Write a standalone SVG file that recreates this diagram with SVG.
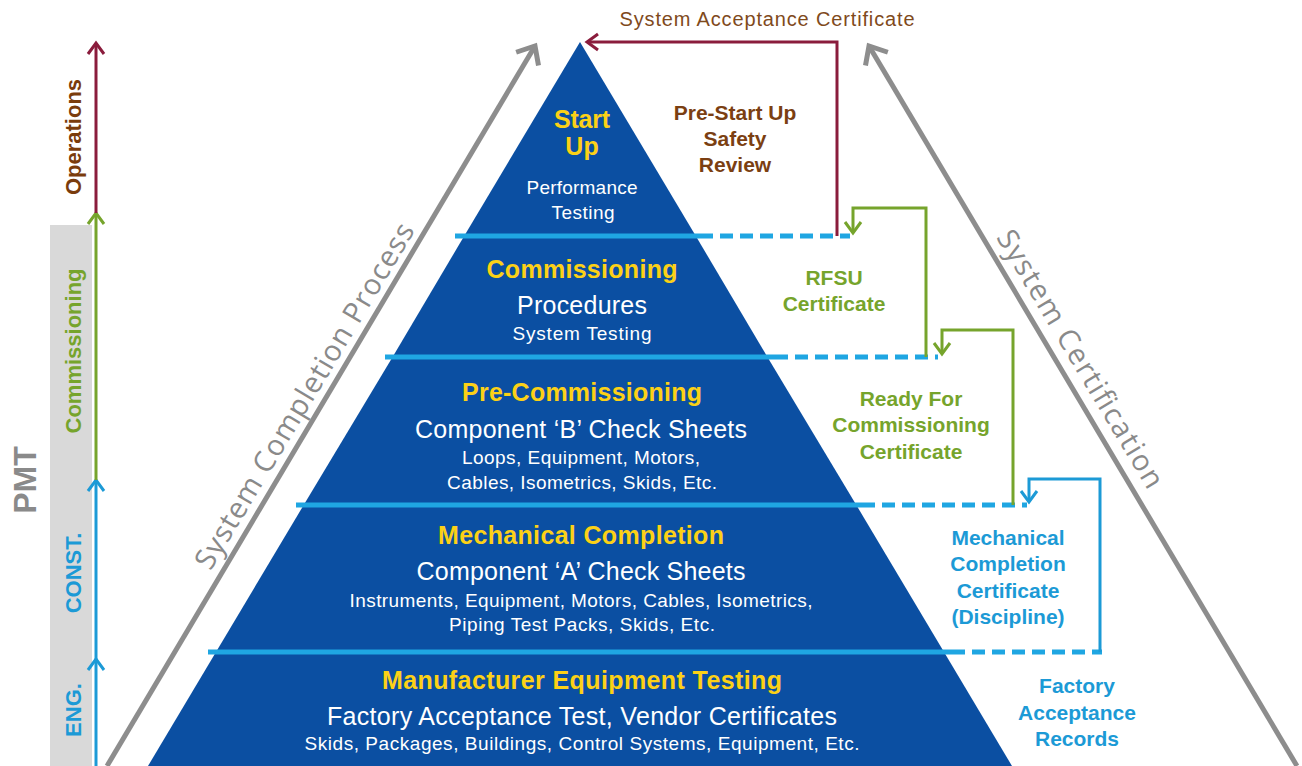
<svg xmlns="http://www.w3.org/2000/svg" width="1302" height="766" viewBox="0 0 1302 766">
<style>
.lvl{fill:#0b4fa2}
.t{font-family:"Liberation Sans",Arial,sans-serif;text-anchor:middle}
.ttl{font-weight:bold;font-size:25px;fill:#fcd116}
.big{font-size:25px;fill:#ffffff}
.sm{font-size:19px;fill:#ffffff}
.lb{font-weight:bold;font-size:21px}
.brown{fill:#7b3f12}
.green{fill:#76a42c}
.blue{fill:#1c9ad6}
.side{font-weight:bold;font-size:22px}
.div{stroke:#1fa6e2;stroke-width:5;fill:none}
.dash{stroke:#1fa6e2;stroke-width:5;fill:none;stroke-dasharray:13 7}
.gl{stroke:#8d8d8d;stroke-width:5;fill:none;marker-end:url(#ah-gray)}
.gtxt{font-family:"Open Sans","Liberation Sans",sans-serif;font-size:29px;fill:#8a8a8a;text-anchor:middle}
</style>
<defs>
<marker id="ah-maroon" viewBox="-14 -11 18 22" refX="0" refY="0" markerWidth="18" markerHeight="22" markerUnits="userSpaceOnUse" orient="auto"><path d="M-11,-8 L0,0 L-11,8" fill="none" stroke="#8a1c3c" stroke-width="3"/></marker>
<marker id="ah-green" viewBox="-14 -11 18 22" refX="0" refY="0" markerWidth="18" markerHeight="22" markerUnits="userSpaceOnUse" orient="auto"><path d="M-11,-8 L0,0 L-11,8" fill="none" stroke="#76a42c" stroke-width="3"/></marker>
<marker id="ah-blue" viewBox="-14 -11 18 22" refX="0" refY="0" markerWidth="18" markerHeight="22" markerUnits="userSpaceOnUse" orient="auto"><path d="M-11,-8 L0,0 L-11,8" fill="none" stroke="#1c9ad6" stroke-width="3"/></marker>
<marker id="ah-gray" viewBox="-19 -17 25 34" refX="0" refY="0" markerWidth="25" markerHeight="34" markerUnits="userSpaceOnUse" orient="auto"><path d="M-15,-13 L0,0 L-15,13" fill="none" stroke="#8d8d8d" stroke-width="5"/></marker>
</defs>
<rect width="1302" height="766" fill="#ffffff"/>

<g id="phase-bar">
<rect x="50" y="225" width="42" height="541" fill="#d9d9d9"/>
<path d="M96 766 V659" stroke="#1c9ad6" stroke-width="3" fill="none" marker-end="url(#ah-blue)"/>
<path d="M96 659 V480" stroke="#1c9ad6" stroke-width="3" fill="none" marker-end="url(#ah-blue)"/>
<path d="M96 480 V213" stroke="#76a42c" stroke-width="3" fill="none" marker-end="url(#ah-green)"/>
<path d="M96 213 V43" stroke="#8a1c3c" stroke-width="3" fill="none" marker-end="url(#ah-maroon)"/>
<text class="t side" fill="#7a3c0c" transform="translate(81 137) rotate(-90)">Operations</text>
<text class="t side" fill="#76a42c" transform="translate(81 351) rotate(-90)">Commissioning</text>
<text class="t side" fill="#1c9ad6" transform="translate(81 573) rotate(-90)">CONST.</text>
<text class="t side" fill="#1c9ad6" transform="translate(81 710) rotate(-90)">ENG.</text>
<text class="t" font-weight="bold" font-size="32" fill="#8a8a8a" transform="translate(36 480) rotate(-90)">PMT</text>
</g>

<g id="process-arrows">
<path class="gl" d="M107 766 L535 46"/>
<path class="gl" d="M1297 766 L869 46"/>
<text class="gtxt" transform="translate(313 401) rotate(-59)" textLength="398" lengthAdjust="spacing">System Completion Process</text>
<text class="gtxt" transform="translate(1072 364) rotate(59)" textLength="296" lengthAdjust="spacing">System Certification</text>
</g>

<g id="level-startup">
<polygon class="lvl" points="580,42 695.8,236 464.2,236"/>
<text class="t ttl" x="582" y="128" textLength="56" lengthAdjust="spacing">Start</text>
<text class="t ttl" x="582" y="155">Up</text>
<text class="t sm" x="582" y="194" textLength="111" lengthAdjust="spacing">Performance</text>
<text class="t sm" x="583" y="219" textLength="63" lengthAdjust="spacing">Testing</text>
</g>

<g id="level-commissioning">
<polygon class="lvl" points="464.2,236 695.8,236 767.4,357 392.6,357"/>
<text class="t ttl" x="582" y="278" textLength="191" lengthAdjust="spacing">Commissioning</text>
<text class="t big" x="582" y="314" textLength="130" lengthAdjust="spacing">Procedures</text>
<text class="t sm" x="582" y="340" textLength="139" lengthAdjust="spacing">System Testing</text>
</g>

<g id="level-precommissioning">
<polygon class="lvl" points="392.6,357 767.4,357 856.3,505 303.7,505"/>
<text class="t ttl" x="582" y="401" textLength="240" lengthAdjust="spacing">Pre-Commissioning</text>
<text class="t big" x="581" y="438" textLength="332" lengthAdjust="spacing">Component ‘B’ Check Sheets</text>
<text class="t sm" x="581" y="464" textLength="238" lengthAdjust="spacing">Loops, Equipment, Motors,</text>
<text class="t sm" x="582" y="489" textLength="270" lengthAdjust="spacing">Cables, Isometrics, Skids, Etc.</text>
</g>

<g id="level-mechanical">
<polygon class="lvl" points="303.7,505 856.3,505 944,652 216,652"/>
<text class="t ttl" x="581" y="544" textLength="286" lengthAdjust="spacing">Mechanical Completion</text>
<text class="t big" x="581" y="580" textLength="329" lengthAdjust="spacing">Component ‘A’ Check Sheets</text>
<text class="t sm" x="581" y="607" textLength="463" lengthAdjust="spacing">Instruments, Equipment, Motors, Cables, Isometrics,</text>
<text class="t sm" x="582" y="631" textLength="266" lengthAdjust="spacing">Piping Test Packs, Skids, Etc.</text>
</g>

<g id="level-manufacturer">
<polygon class="lvl" points="216,652 944,652 1012,766 148,766"/>
<text class="t ttl" x="582" y="689" textLength="400" lengthAdjust="spacing">Manufacturer Equipment Testing</text>
<text class="t big" x="582" y="725" textLength="510" lengthAdjust="spacing">Factory Acceptance Test, Vendor Certificates</text>
<text class="t sm" x="582" y="750" textLength="555" lengthAdjust="spacing">Skids, Packages, Buildings, Control Systems, Equipment, Etc.</text>
</g>

<g id="dividers">
<path class="div" d="M455 236 H700 M385 357 H775 M296 505 H862 M208 652 H952"/>
<path class="dash" d="M700 236 H850 M775 357 H938 M862 505 H1027 M952 652 H1102"/>
</g>

<g id="connectors">
<path d="M837 236 V42 H587" stroke="#8a1c3c" stroke-width="3" fill="none" marker-end="url(#ah-maroon)"/>
<path d="M926 357 V208 H853 V233" stroke="#76a42c" stroke-width="3" fill="none" marker-end="url(#ah-green)"/>
<path d="M1013 505 V330 H942 V354" stroke="#76a42c" stroke-width="3" fill="none" marker-end="url(#ah-green)"/>
<path d="M1100 652 V479 H1029 V502" stroke="#1c9ad6" stroke-width="3" fill="none" marker-end="url(#ah-blue)"/>
</g>

<g id="label-sac">
<text class="t" x="767" y="26" font-size="20" fill="#7f4a1c" textLength="295" lengthAdjust="spacing">System Acceptance Certificate</text>
</g>
<g id="label-pssr">
<text class="t lb brown" x="735" y="120">Pre-Start Up</text>
<text class="t lb brown" x="735" y="146">Safety</text>
<text class="t lb brown" x="735" y="172">Review</text>
</g>
<g id="label-rfsu">
<text class="t lb green" x="834" y="285">RFSU</text>
<text class="t lb green" x="834" y="311">Certificate</text>
</g>
<g id="label-rfc">
<text class="t lb green" x="911" y="406">Ready For</text>
<text class="t lb green" x="911" y="432">Commissioning</text>
<text class="t lb green" x="911" y="459">Certificate</text>
</g>
<g id="label-mcc">
<text class="t lb blue" x="1008" y="545">Mechanical</text>
<text class="t lb blue" x="1008" y="571">Completion</text>
<text class="t lb blue" x="1008" y="598">Certificate</text>
<text class="t lb blue" x="1008" y="624">(Discipline)</text>
</g>
<g id="label-far">
<text class="t lb blue" x="1077" y="693">Factory</text>
<text class="t lb blue" x="1077" y="720">Acceptance</text>
<text class="t lb blue" x="1077" y="746">Records</text>
</g>
</svg>
